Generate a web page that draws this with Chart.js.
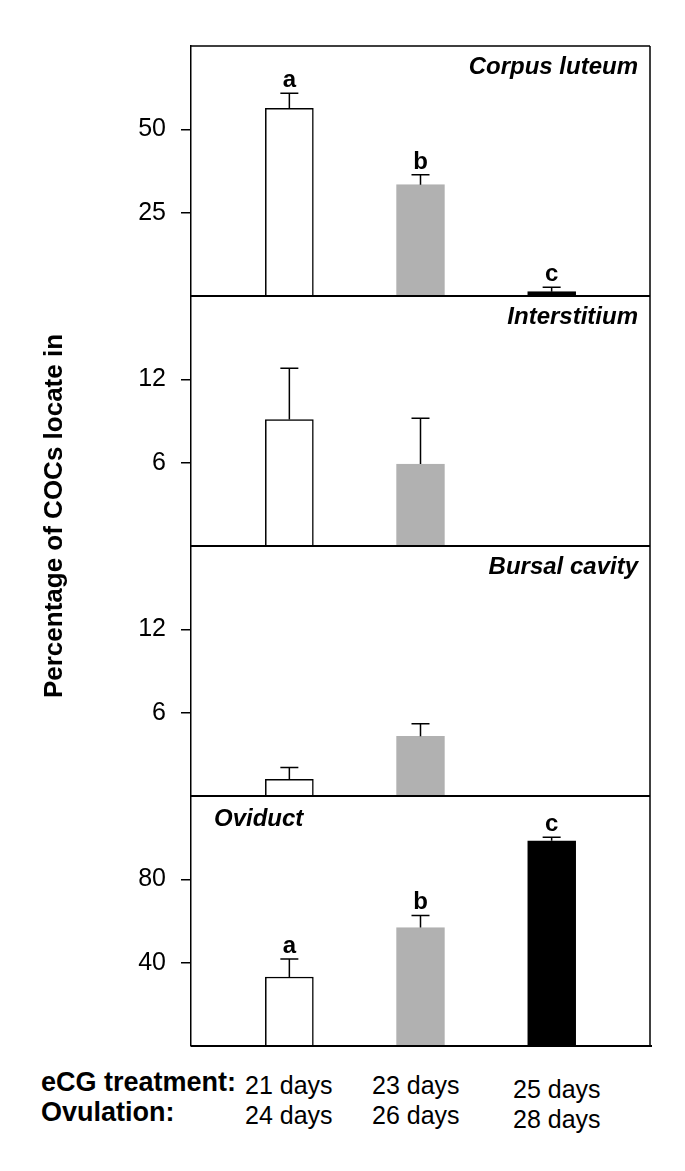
<!DOCTYPE html>
<html>
<head>
<meta charset="utf-8">
<script src="https://cdn.jsdelivr.net/npm/chart.js@4"></script>
<style>
  html, body { margin:0; padding:0; background:#ffffff; }
  #wrap { position:relative; width:685px; height:1171px; background:#ffffff; overflow:hidden;
          font-family:"Liberation Sans", Arial, Helvetica, sans-serif; color:#000; }
  canvas { position:absolute; left:0; }
  .lbl { position:absolute; white-space:nowrap; font-size:25px; line-height:25px; }
  .b { font-weight:bold; font-size:27px; }
  #ytitle { position:absolute; width:440px; left:-167px; top:502px; text-align:center;
            font-weight:bold; font-size:26px; line-height:28px; transform:rotate(-90deg); transform-origin:50% 50%; white-space:nowrap; }
</style>
</head>
<body>
<div id="wrap">
  <canvas id="c0" width="685" height="262"></canvas>
  <canvas id="c1" width="685" height="262"></canvas>
  <canvas id="c2" width="685" height="262"></canvas>
  <canvas id="c3" width="685" height="262"></canvas>
  <div id="ytitle">Percentage of COCs locate in</div>
</div>
<script>
// ---- data ----
const groupPos = [0, 1, 2];
const treatmentLabels = ['21 days', '23 days', '25 days'];
const ovulationLabels = ['24 days', '26 days', '28 days'];
const panelNames = ['Corpus luteum', 'Interstitium', 'Bursal cavity', 'Oviduct'];

const corpusMean   = [56.3, 33.4, 1.3];
const corpusErr    = [4.5, 3.0, 1.3];
const corpusSig    = ['a', 'b', 'c'];

const interMean    = [9.1, 5.9, null];
const interErr     = [3.7, 3.3, null];
const interSig     = ['', '', ''];

const bursalMean   = [1.2, 4.3, null];
const bursalErr    = [0.85, 0.9, null];
const bursalSig    = ['', '', ''];

const oviductMean  = [33.1, 56.9, 98.5];
const oviductErr   = [8.7, 5.8, 1.7];
const oviductSig   = ['a', 'b', 'c'];

const yMaxes = [75, 18, 18, 120];
const yTicks = [[25, 50], [6, 12], [6, 12], [40, 80]];

// ---- styles ----
const FONT = '"Liberation Sans", Arial, Helvetica, sans-serif';
const barFill   = ['#ffffff', '#b1b1b1', '#000000'];
const barBorder = ['#000000', '#b1b1b1', '#000000'];
const canvasTops = [40, 290, 540, 790];

const panels = [
  { mean: corpusMean,  err: corpusErr,  sig: corpusSig,  titleAlign: 'right' },
  { mean: interMean,   err: interErr,   sig: interSig,   titleAlign: 'right' },
  { mean: bursalMean,  err: bursalErr,  sig: bursalSig,  titleAlign: 'right' },
  { mean: oviductMean, err: oviductErr, sig: oviductSig, titleAlign: 'left' }
];

const panelPlugin = {
  id: 'panelDecor',
  afterDatasetsDraw(chart, args, opts) {
    const ctx = chart.ctx;
    const xs = chart.scales.x, ys = chart.scales.y;
    const ca = chart.chartArea;
    const p = opts.panel;
    ctx.save();
    // error bars + significance letters
    p.mean.forEach((m, i) => {
      if (m === null) return;
      const x = xs.getPixelForValue(groupPos[i]);
      const yb = ys.getPixelForValue(m);
      const yt = ys.getPixelForValue(m + p.err[i]);
      ctx.strokeStyle = '#000';
      ctx.lineWidth = 1.5;
      ctx.beginPath();
      ctx.moveTo(x, yb); ctx.lineTo(x, yt);
      ctx.moveTo(x - 9, yt); ctx.lineTo(x + 9, yt);
      ctx.stroke();
      if (p.sig[i]) {
        ctx.fillStyle = '#000';
        ctx.font = 'bold 24px ' + FONT;
        ctx.textAlign = 'center';
        ctx.textBaseline = 'alphabetic';
        ctx.fillText(p.sig[i], x, yt - 6);
      }
    });
    // frame
    ctx.strokeStyle = '#000';
    ctx.lineWidth = 1.5;
    ctx.beginPath();
    ctx.moveTo(ca.right, ca.top); ctx.lineTo(ca.right, ca.bottom);
    if (opts.index === 0) { ctx.moveTo(ca.left, ca.top); ctx.lineTo(ca.right, ca.top); }
    ctx.stroke();
    ctx.lineWidth = 2.2;
    ctx.beginPath();
    ctx.moveTo(ca.left, ca.bottom);
    ctx.lineTo(ca.right + (opts.index === 3 ? 2 : 0), ca.bottom);
    ctx.stroke();
    // panel title
    ctx.fillStyle = '#000';
    ctx.font = 'italic bold 24px ' + FONT;
    ctx.textBaseline = 'alphabetic';
    if (p.titleAlign === 'right') {
      ctx.textAlign = 'right';
      ctx.fillText(panelNames[opts.index], ca.right - 12, ca.top + 28);
    } else {
      ctx.textAlign = 'left';
      ctx.fillText(panelNames[opts.index], ca.left + 23, ca.top + 30);
    }
    ctx.restore();
  }
};

panels.forEach((p, k) => {
  const cv = document.getElementById('c' + k);
  cv.style.top = canvasTops[k] + 'px';
  const pts = [], fills = [], borders = [];
  p.mean.forEach((m, i) => {
    if (m === null) return;
    pts.push({ x: groupPos[i], y: m });
    fills.push(barFill[i]);
    borders.push(barBorder[i]);
  });
  new Chart(cv, {
    type: 'bar',
    data: {
      datasets: [{
        data: pts,
        backgroundColor: fills,
        borderColor: borders,
        borderWidth: 1.5,
        barThickness: 48,
        borderSkipped: 'start'
      }]
    },
    options: {
      responsive: false,
      animation: false,
      layout: { padding: { top: 6, bottom: 6, left: 0, right: 35 } },
      plugins: {
        legend: { display: false },
        tooltip: { enabled: false },
        panelDecor: { panel: p, index: k }
      },
      scales: {
        x: { type: 'linear', min: -0.75, max: 2.75, offset: false, display: false,
             grid: { offset: false } },
        y: {
          type: 'linear', min: 0, max: yMaxes[k],
          afterFit(scale) {
            scale.width = 191;
            scale.paddingTop = 0; scale.paddingBottom = 0;
            scale.paddingLeft = 0; scale.paddingRight = 0;
          },
          afterBuildTicks(scale) { scale.ticks = yTicks[k].map(v => ({ value: v })); },
          ticks: { color: '#000', font: { family: FONT, size: 25 }, padding: 15 },
          grid: { display: true, drawOnChartArea: false, drawTicks: true, tickLength: 10,
                  color: '#000', lineWidth: 1.5 },
          border: { display: true, color: '#000', width: 1.5 }
        }
      }
    },
    plugins: [panelPlugin]
  });
});

// ---- bottom labels ----
const wrap = document.getElementById('wrap');
function addLabel(text, left, baseline, bold) {
  const d = document.createElement('div');
  d.className = 'lbl' + (bold ? ' b' : '');
  d.textContent = text;
  d.style.left = left + 'px';
  d.style.top = (baseline - (bold ? 23 : 21)) + 'px';
  wrap.appendChild(d);
}
addLabel('eCG treatment:', 41, 1093, true);
addLabel('Ovulation:', 41, 1123, true);
const colLeft = [245, 372, 513];
const colBase = [0, 0, 4];
treatmentLabels.forEach((t, i) => addLabel(t, colLeft[i], 1094 + colBase[i], false));
ovulationLabels.forEach((t, i) => addLabel(t, colLeft[i], 1124 + colBase[i], false));
</script>
</body>
</html>
